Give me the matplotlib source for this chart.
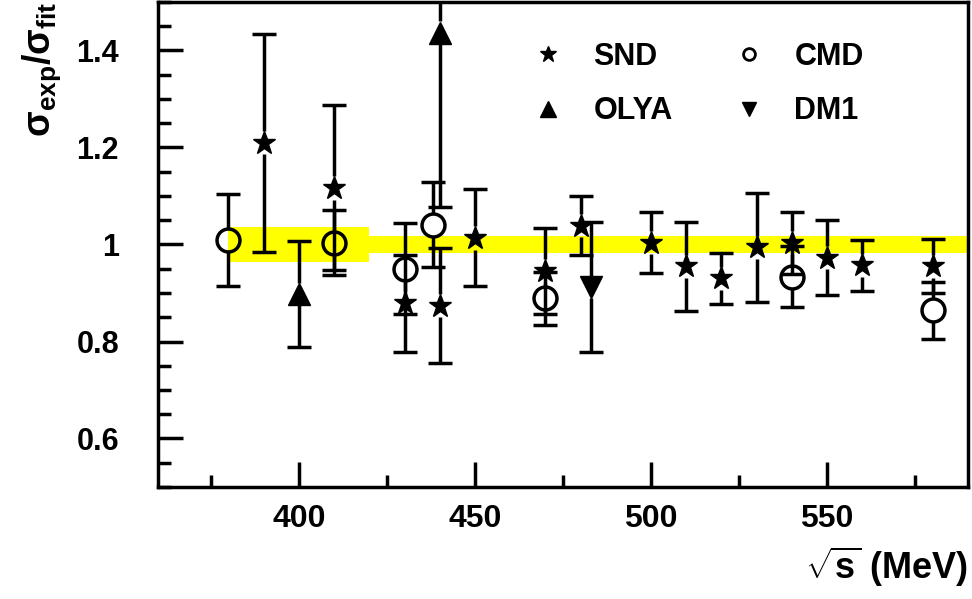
import matplotlib
matplotlib.use("Agg")
import matplotlib.pyplot as plt
from matplotlib.lines import Line2D
from matplotlib.ticker import MultipleLocator, FuncFormatter

plt.rcParams["font.family"] = ["Liberation Sans", "DejaVu Sans"]
plt.rcParams["font.weight"] = "bold"
plt.rcParams["mathtext.fontset"] = "custom"
plt.rcParams["mathtext.rm"] = "Liberation Sans:bold"
plt.rcParams["mathtext.it"] = "Liberation Sans:bold"
plt.rcParams["mathtext.bf"] = "Liberation Sans:bold"
plt.rcParams["mathtext.default"] = "rm"

# sigma_exp / sigma_fit
snd_e = [390, 410, 430, 440, 450, 470, 480, 500, 510, 520, 530, 540, 550, 560, 580]
snd_r = [1.21, 1.117, 0.879, 0.874, 1.014, 0.945, 1.039, 1.004, 0.955, 0.930, 0.994, 1.004, 0.973, 0.957, 0.955]
snd_err = [0.225, 0.17, 0.10, 0.119, 0.10, 0.088, 0.06, 0.063, 0.092, 0.053, 0.113, 0.064, 0.078, 0.053, 0.056]

cmd_e = [380, 410, 430, 438, 470, 540, 580]
cmd_r = [1.010, 1.004, 0.950, 1.041, 0.889, 0.934, 0.864]
cmd_err = [0.095, 0.067, 0.094, 0.087, 0.055, 0.062, 0.058]

olya_e = [400, 440]
olya_r = [0.898, 1.437]
olya_err = [0.11, 0.36]

dm1_e = [483]
dm1_r = [0.912]
dm1_err = [0.134]

# fit uncertainty corridor
band_e = [380, 420, 590]
band_half = [0.037, 0.0165, 0.0165]

LW = 2.5
CAP = 17

fig = plt.figure(figsize=(9.72, 5.99), dpi=100)
ax = fig.add_axes([158 / 972, 112 / 599, 810 / 972, 485 / 599])
ax.set_xlim(360, 590)
ax.set_ylim(0.5, 1.5)

ax.fill_between(band_e, [1 - h for h in band_half], [1 + h for h in band_half],
                step="post", color="#ffff00", lw=0, zorder=1)


def _points(x, y, err, marker, ms, filled=True):
    # error bars stop at the marker edge, like ROOT draws them
    y0, y1 = ax.get_ylim()
    px_per_unit = ax.get_window_extent().height / (y1 - y0)
    gap = ms / 2 * fig.dpi / 72 / px_per_unit
    for xi, yi, ei in zip(x, y, err):
        if ei > gap:
            ax.vlines(xi, yi + gap, yi + ei, color="k", lw=LW, zorder=2)
            ax.vlines(xi, yi - ei, yi - gap, color="k", lw=LW, zorder=2)
    ax.plot(x, [a + b for a, b in zip(y, err)], ls="none", marker="_", ms=CAP, mew=LW, color="k", zorder=2)
    ax.plot(x, [a - b for a, b in zip(y, err)], ls="none", marker="_", ms=CAP, mew=LW, color="k", zorder=2)
    if filled:
        ax.plot(x, y, ls="none", marker=marker, ms=ms, color="k", mew=1, zorder=3)
    else:
        ax.plot(x, y, ls="none", marker=marker, ms=ms, mfc="none", mec="k", mew=LW, zorder=3)


_points(cmd_e, cmd_r, cmd_err, "o", 16.5, filled=False)
_points(snd_e, snd_r, snd_err, "*", 17)
_points(olya_e, olya_r, olya_err, "^", 16)
_points(dm1_e, dm1_r, dm1_err, "v", 16)

ax.xaxis.set_major_locator(MultipleLocator(50))
ax.xaxis.set_minor_locator(MultipleLocator(25))
ax.yaxis.set_major_locator(MultipleLocator(0.2))
ax.yaxis.set_minor_locator(MultipleLocator(0.05))
ax.yaxis.set_major_formatter(FuncFormatter(lambda v, p: f"{v:g}"))
ax.tick_params(which="both", direction="in", width=LW, top=False, right=False)
ax.tick_params(axis="x", which="major", length=18, pad=12, labelsize=23)
ax.tick_params(axis="x", which="minor", length=9)
ax.tick_params(axis="y", which="major", length=18, pad=28, labelsize=22)
ax.tick_params(axis="y", which="minor", length=9)
for s in ax.spines.values():
    s.set_linewidth(LW)

ax.set_xlabel(r"$\sqrt{s}$ (MeV)", fontsize=26, fontweight="bold", loc="right", labelpad=8)
ax.set_ylabel(r"$\sigma_{exp}/\sigma_{fit}$", fontsize=27, fontweight="bold", loc="top")
ax.yaxis.set_label_coords(-0.117, 1.0)

handles = [
    Line2D([], [], ls="none", marker="*", ms=12, color="k"),
    Line2D([], [], ls="none", marker="^", ms=11, color="k"),
    Line2D([], [], ls="none", marker="o", ms=8.5, mfc="none", mec="k", mew=2),
    Line2D([], [], ls="none", marker="v", ms=10, color="k"),
]
ax.legend(handles, ["SND", "OLYA", "CMD", "DM1"], ncol=2, frameon=False,
          prop={"weight": "bold", "size": 22},
          loc="upper left", bbox_to_anchor=(0.463, 0.918), borderpad=0, borderaxespad=0,
          handlelength=1.0, handletextpad=0.98, columnspacing=2.0, labelspacing=0.8)

fig.savefig("out.png", dpi=100)
